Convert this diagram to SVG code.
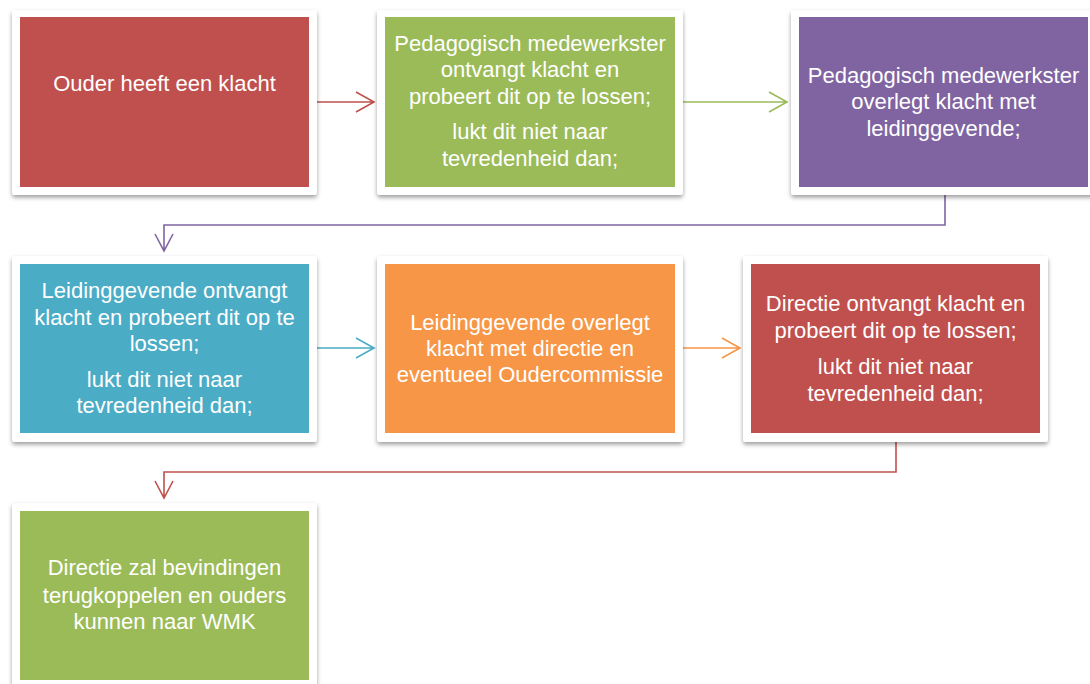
<svg xmlns="http://www.w3.org/2000/svg" width="1090" height="684" viewBox="0 0 1090 684">
<defs>
<filter id="sh" x="-10%" y="-10%" width="120%" height="130%">
<feDropShadow dx="0" dy="2.5" stdDeviation="2.2" flood-color="#000" flood-opacity="0.38"/>
</filter>
</defs>
<style>
.frame{fill:#fff;filter:url(#sh)}
.t{font-family:"Liberation Sans",Arial,sans-serif;font-size:22px;fill:#fff;text-anchor:middle}
.c{fill:none;stroke-width:1.6}
</style>
<rect width="1090" height="684" fill="#fff"/>
<g id="connectors">
<path class="c" stroke="#C0504D" d="M317,102 H374 M356,92 L374,102 L356,112"/>
<path class="c" stroke="#9BBB59" d="M683,102 H787 M769,92 L787,102 L769,112"/>
<path class="c" stroke="#8064A2" d="M945,195 V225 H164 V251 M155,234 L164,251 L173,234"/>
<path class="c" stroke="#4BACC6" d="M317,348 H374 M356,338 L374,348 L356,358"/>
<path class="c" stroke="#F79646" d="M683,348 H740 M722,338 L740,348 L722,358"/>
<path class="c" stroke="#C0504D" d="M896,442 V472 H164 V498 M155,481 L164,498 L173,481"/>
</g>
<g id="n1">
<rect class="frame" x="12" y="10" width="305" height="185" rx="3"/>
<rect x="20" y="17" width="289" height="170" fill="#C0504D"/>
<text class="t" x="164.5" y="91">Ouder heeft een klacht</text>
</g>
<g id="n2">
<rect class="frame" x="377" y="10" width="306" height="185" rx="3"/>
<rect x="385" y="17" width="290" height="170" fill="#9BBB59"/>
<text class="t" x="530" y="51">Pedagogisch medewerkster</text>
<text class="t" x="530" y="77">ontvangt klacht en</text>
<text class="t" x="530" y="104">probeert dit op te lossen;</text>
<text class="t" x="530" y="139">lukt dit niet naar</text>
<text class="t" x="530" y="166">tevredenheid dan;</text>
</g>
<g id="n3">
<rect class="frame" x="791" y="10" width="306" height="185" rx="3"/>
<rect x="799" y="17" width="289" height="170" fill="#8064A2"/>
<text class="t" x="943.5" y="83">Pedagogisch medewerkster</text>
<text class="t" x="943.5" y="109">overlegt klacht met</text>
<text class="t" x="943.5" y="136">leidinggevende;</text>
</g>
<g id="n4">
<rect class="frame" x="12" y="256" width="305" height="186" rx="3"/>
<rect x="20" y="264" width="289" height="169" fill="#4BACC6"/>
<text class="t" x="164.5" y="298">Leidinggevende ontvangt</text>
<text class="t" x="164.5" y="325">klacht en probeert dit op te</text>
<text class="t" x="164.5" y="351">lossen;</text>
<text class="t" x="164.5" y="387">lukt dit niet naar</text>
<text class="t" x="164.5" y="413">tevredenheid dan;</text>
</g>
<g id="n5">
<rect class="frame" x="377" y="256" width="306" height="186" rx="3"/>
<rect x="385" y="264" width="290" height="169" fill="#F79646"/>
<text class="t" x="530" y="330">Leidinggevende overlegt</text>
<text class="t" x="530" y="356">klacht met directie en</text>
<text class="t" x="530" y="382">eventueel Oudercommissie</text>
</g>
<g id="n6">
<rect class="frame" x="743" y="256" width="305" height="186" rx="3"/>
<rect x="751" y="264" width="289" height="169" fill="#C0504D"/>
<text class="t" x="895.5" y="311">Directie ontvangt klacht en</text>
<text class="t" x="895.5" y="338">probeert dit op te lossen;</text>
<text class="t" x="895.5" y="374">lukt dit niet naar</text>
<text class="t" x="895.5" y="401">tevredenheid dan;</text>
</g>
<g id="n7">
<rect class="frame" x="12" y="503" width="305" height="186" rx="3"/>
<rect x="20" y="511" width="289" height="169" fill="#9BBB59"/>
<text class="t" x="164.5" y="575">Directie zal bevindingen</text>
<text class="t" x="164.5" y="603">terugkoppelen en ouders</text>
<text class="t" x="164.5" y="629">kunnen naar WMK</text>
</g>
</svg>
